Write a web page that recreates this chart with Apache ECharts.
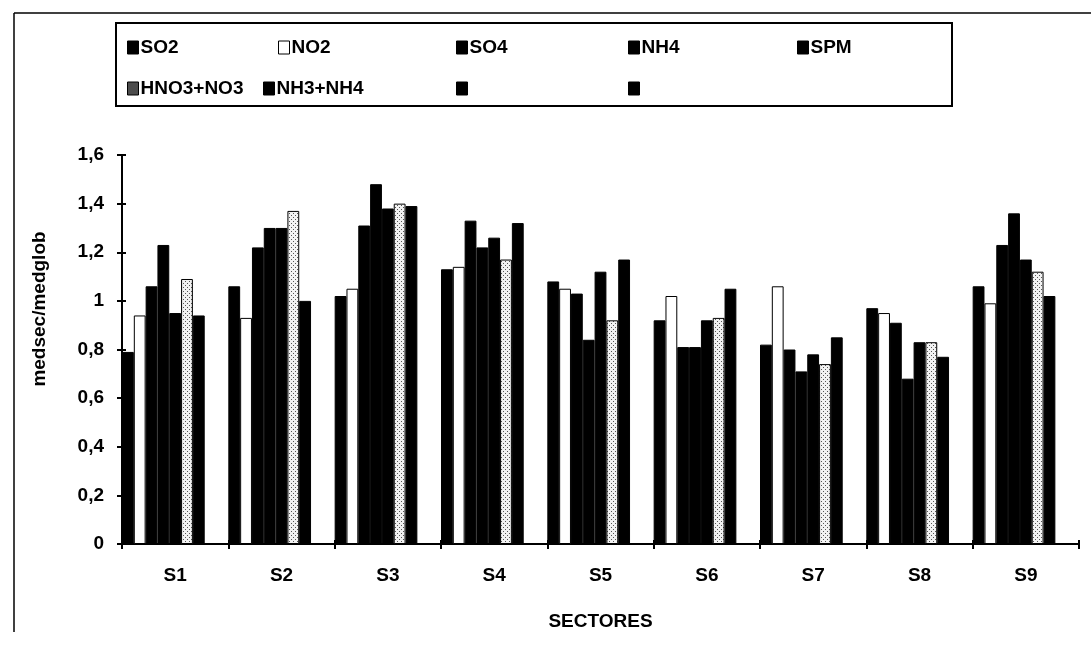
<!DOCTYPE html>
<html>
<head>
<meta charset="utf-8">
<script src="https://cdn.jsdelivr.net/npm/echarts@6/dist/echarts.min.js"></script>
<style>
html,body{margin:0;padding:0;background:#fff;}
#c{width:1091px;height:647px;}
</style>
</head>
<body>
<div id="c"></div>
<script>
const categories = ['S1','S2','S3','S4','S5','S6','S7','S8','S9'];
const so2     = [0.79, 1.06, 1.02, 1.13, 1.08, 0.92, 0.82, 0.97, 1.06];
const no2     = [0.94, 0.93, 1.05, 1.14, 1.05, 1.02, 1.06, 0.95, 0.99];
const so4     = [1.06, 1.22, 1.31, 1.33, 1.03, 0.81, 0.80, 0.91, 1.23];
const nh4     = [1.23, 1.30, 1.48, 1.22, 0.84, 0.81, 0.71, 0.68, 1.36];
const spm     = [0.95, 1.30, 1.38, 1.26, 1.12, 0.92, 0.78, 0.83, 1.17];
const hno3no3 = [1.09, 1.37, 1.40, 1.17, 0.92, 0.93, 0.74, 0.83, 1.12];
const nh3nh4  = [0.94, 1.00, 1.39, 1.32, 1.17, 1.05, 0.85, 0.77, 1.02];
const empty1  = [];
const empty2  = [];
const seriesNames = ['SO2','NO2','SO4','NH4','SPM','HNO3+NO3','NH3+NH4',' ','  '];
const seriesData = [so2, no2, so4, nh4, spm, hno3no3, nh3nh4, empty1, empty2];
const yMin = 0, yMax = 1.6, yStep = 0.2;

// speckled pattern for HNO3+NO3
const pc = document.createElement('canvas');
pc.width = 4; pc.height = 4;
const pctx = pc.getContext('2d');
pctx.fillStyle = '#f2f2f2'; pctx.fillRect(0,0,4,4);
pctx.fillStyle = '#555'; pctx.fillRect(1,1,1,1); pctx.fillRect(3,3,1,1);
const lc = document.createElement('canvas');
lc.width = 2; lc.height = 2;
const lctx = lc.getContext('2d');
lctx.fillStyle = '#111'; lctx.fillRect(0,0,2,2);
lctx.fillStyle = '#888'; lctx.fillRect(0,0,1,1); lctx.fillRect(1,1,1,1);

const fills = ['#000','#fff','#000','#000','#000',{image: pc, repeat: 'repeat'},'#000','#000','#000'];
const legendFills = ['#000','#fff','#000','#000','#000',{image: lc, repeat: 'repeat'},'#000','#000','#000'];

const FONT = 'Liberation Sans';
const legendPos = [
  [127, 38], [278, 38], [456, 38], [628, 38], [797, 38],
  [127, 79], [263, 79], [456, 79], [628, 79]
];

const legends = seriesNames.map((n, i) => ({
  data: [{name: n, itemStyle: {color: legendFills[i], borderColor: '#000', borderWidth: 1}}],
  left: legendPos[i][0],
  top: legendPos[i][1],
  icon: 'rect',
  itemWidth: 11,
  itemHeight: 13,
  itemGap: 3,
  padding: 0,
  selectedMode: false,
  textStyle: {fontFamily: FONT, fontWeight: 'bold', fontSize: 19, color: '#000', padding: [0,0,0,-3]}
}));

const series = seriesNames.map((n, i) => ({
  name: n,
  type: 'bar',
  data: seriesData[i],
  barGap: '0%',
  barCategoryGap: '0%',
  itemStyle: {color: fills[i], borderColor: '#000', borderWidth: 1},
  emphasis: {disabled: true},
  animation: false
}));

const chart = echarts.init(document.getElementById('c'), null, {renderer: 'canvas'});
chart.setOption({
  animation: false,
  backgroundColor: '#fff',
  legend: legends,
  grid: {left: 122, right: 12, top: 155, bottom: 103, containLabel: false},
  xAxis: [{
    type: 'category',
    data: categories,
    name: 'SECTORES',
    nameLocation: 'middle',
    nameGap: 68,
    nameTextStyle: {fontFamily: FONT, fontWeight: 'bold', fontSize: 19, color: '#000'},
    axisLine: {lineStyle: {color: '#000', width: 2}},
    axisTick: {show: true, length: 5, lineStyle: {color: '#000', width: 2}},
    axisLabel: {fontFamily: FONT, fontWeight: 'bold', fontSize: 19, color: '#000', margin: 22},
    splitLine: {show: false}
  }, {
    type: 'category',
    data: categories,
    position: 'bottom',
    axisLine: {show: false},
    axisTick: {show: true, inside: true, length: 4, lineStyle: {color: '#000', width: 2}},
    axisLabel: {show: false},
    splitLine: {show: false}
  }],
  yAxis: [{
    type: 'value',
    min: yMin, max: yMax, interval: yStep,
    axisLine: {show: true, lineStyle: {color: '#000', width: 2}},
    axisTick: {show: true, length: 5, lineStyle: {color: '#000', width: 2}},
    axisLabel: {
      fontFamily: FONT, fontWeight: 'bold', fontSize: 19, color: '#000', margin: 18,
      formatter: v => (Math.abs(v - Math.round(v)) < 1e-9 ? String(Math.round(v)) : v.toFixed(1).replace('.', ','))
    },
    splitLine: {show: false}
  }, {
    type: 'value',
    min: yMin, max: yMax, interval: yStep,
    position: 'left',
    axisLine: {show: false},
    axisTick: {show: true, inside: true, length: 4, lineStyle: {color: '#000', width: 2}},
    axisLabel: {show: false},
    splitLine: {show: false}
  }],
  graphic: [
    {type: 'line', shape: {x1: 14, y1: 13, x2: 1091, y2: 13}, style: {stroke: '#000', lineWidth: 1.5}, silent: true},
    {type: 'line', shape: {x1: 14, y1: 13, x2: 14, y2: 632}, style: {stroke: '#000', lineWidth: 1.5}, silent: true},
    {type: 'rect', shape: {x: 116, y: 23, width: 836, height: 83}, style: {fill: 'none', stroke: '#000', lineWidth: 2}, silent: true, z: -1},
    {type: 'text', x: 40, y: 309, rotation: Math.PI / 2,
     style: {text: 'medsec/medglob', font: 'bold 19px "Liberation Sans"', fill: '#000', textAlign: 'center', textVerticalAlign: 'middle'}, silent: true}
  ],
  series: series
});
</script>
</body>
</html>
